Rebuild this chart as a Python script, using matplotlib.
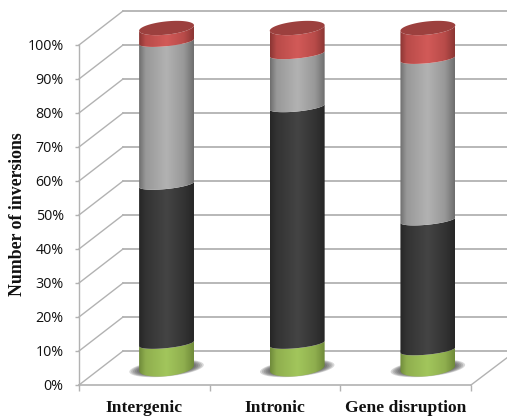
import numpy as np
import matplotlib
matplotlib.use("Agg")
import matplotlib.pyplot as plt
from matplotlib.colors import LinearSegmentedColormap
from matplotlib.patches import Polygon

categories = ["Intergenic", "Intronic", "Gene disruption"]
green = [7.2, 7.2, 5.3]
black = [46.8, 69.6, 38.2]
gray = [42.0, 15.6, 47.5]
red = [4.0, 7.6, 9.0]
y_ticks = list(range(0, 101, 10))
y_labels = [f"{v}%" for v in y_ticks]

W, H = 507, 417
fig = plt.figure(figsize=(W / 100, H / 100), dpi=100, facecolor="white")
ax = fig.add_axes([79 / W, 1 - 385 / H, (471 - 79) / W, (385 - 45) / H])
ax.set_xlim(0, 3)
ax.set_ylim(0, 100)
ax.autoscale(False)

GRID = "#b2b2b2"
DX, DY = 0.337, 10.0     # chart-depth offset in data units
CX, HALF_W = 0.67, 0.21  # bar centre within a category, half width
B_BASE, B_INNER, B_TOP = 2.4, 1.35, 1.95  # ellipse semi-heights
SHEAR = 0.8

# walls and floor
for v in y_ticks:
    ax.plot([0, DX], [v, v + DY], color=GRID, lw=1.0, clip_on=False, zorder=1)
    ax.plot([DX, 3.3], [v + DY, v + DY], color=GRID, lw=1.3, clip_on=False, zorder=1)
ax.plot([3, 3.275], [0, 8.0], color=GRID, lw=1.0, clip_on=False, zorder=1)
ax.plot([0, 3], [0, 0], color=GRID, lw=1.2, clip_on=False, zorder=1)
ax.plot([0, 0], [0, 100], color=GRID, lw=1.0, clip_on=False, zorder=1)

for s in ax.spines.values():
    s.set_visible(False)
ax.patch.set_alpha(0)


def shades(edge, mid, centre):
    return LinearSegmentedColormap.from_list(
        "c", [(0, edge), (0.12, mid), (0.5, centre), (0.82, mid), (1, edge)]
    )


segment_styles = [
    shades("#6f8a3a", "#8fae4e", "#a2c65c"),
    shades("#262626", "#333333", "#444444"),
    shades("#6e6e6e", "#989898", "#b2b2b2"),
    shades("#8a3533", "#b84b49", "#d25a58"),
]
TOP = "#9c403e"
t_front = np.linspace(np.pi, 2 * np.pi, 60)
t_all = np.linspace(0, 2 * np.pi, 120)
grad = np.linspace(0, 1, 256).reshape(1, -1)


def arc(cx, y, t, b):
    return cx + HALF_W * np.cos(t), y + SHEAR * np.cos(t) + b * np.sin(t)


for i in range(len(categories)):
    cx = i + CX
    # soft floor shadow, tilted like the cylinder base
    for k in range(9):
        f = 1 - k * 0.05
        sx = cx + 0.285 * f * np.cos(t_all)
        sy = 4.9 + 1.0 * f * np.cos(t_all) + 2.4 * f * np.sin(t_all)
        ax.fill(sx, sy, color="#3c3c3c", alpha=0.2, lw=0, zorder=2, clip_on=False)
    base = 5.0
    lower_b = B_BASE
    styles = list(zip((green[i], black[i], gray[i], red[i]), segment_styles))
    for n, (vals, cmap) in enumerate(styles):
        top = base + vals
        upper_b = B_TOP if n == len(styles) - 1 else B_INNER
        x0, y0 = arc(cx, base, t_front, lower_b)
        x1, y1 = arc(cx, top, t_front[::-1], upper_b)
        poly = Polygon(np.column_stack([np.r_[x0, x1], np.r_[y0, y1]]),
                       closed=True, transform=ax.transData, fc="none", ec="none")
        ax.add_patch(poly)
        im = ax.imshow(grad, cmap=cmap, aspect="auto", interpolation="bilinear",
                       extent=(cx - HALF_W, cx + HALF_W, base - 5, top + 5),
                       vmin=0, vmax=1, zorder=3)
        im.set_clip_box(fig.bbox)
        im.set_clip_path(poly)
        base = top
        lower_b = upper_b
    xt, yt = arc(cx, base, t_all, B_TOP)
    ax.fill(xt, yt, color=TOP, lw=0, zorder=4, clip_on=False)

ax.set_xlim(0, 3)
ax.set_ylim(0, 100)

# ticks and labels
ax.set_yticks(y_ticks, y_labels, fontsize=10.3, family="Open Sans", color="#111111",
              va="center_baseline")
ax.tick_params(axis="y", length=3, width=1, color=GRID, pad=8)
ax.set_xticks([0, 1, 2, 3])
ax.set_xticklabels([])
ax.set_xticks([0.5, 1.5, 2.5], categories, minor=True, fontsize=12.6,
              family="Liberation Serif", fontweight="bold", color="#111111",
              va="baseline")
ax.tick_params(axis="x", which="major", length=4, width=1, color=GRID)
ax.tick_params(axis="x", which="minor", length=0, pad=19.4)
fig.text(18 / W, 1 - 214 / H, "Number of inversions", rotation=90, ha="center",
         va="center", fontsize=12.8, family="Liberation Serif", fontweight="bold",
         color="#111111")

fig.savefig("out.png", dpi=100, facecolor="white")
